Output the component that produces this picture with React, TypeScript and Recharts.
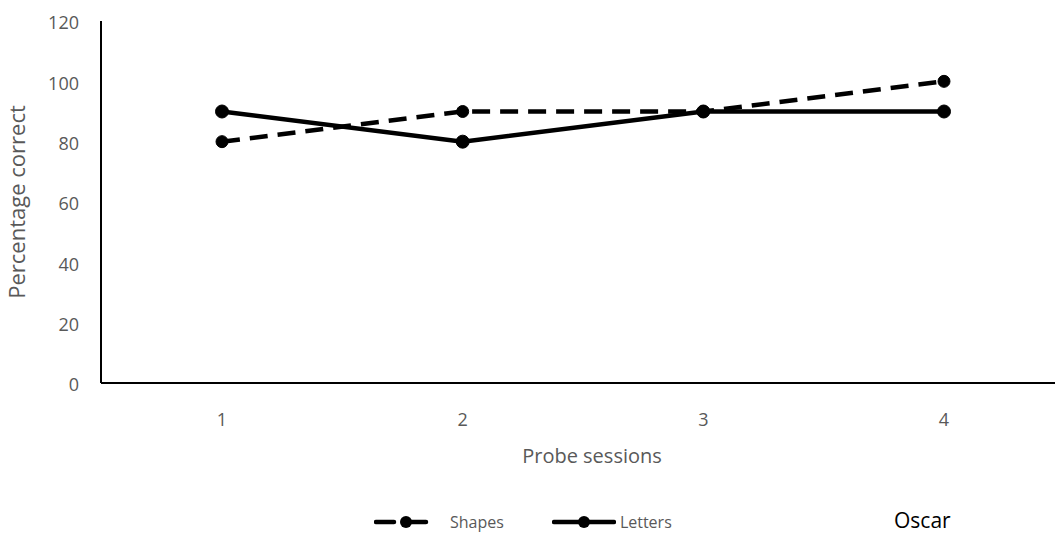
import { LineChart, Line, XAxis, YAxis } from "recharts";

const sessions = ["1", "2", "3", "4"];
const shapes = [80, 90, 90, 100];
const letters = [90, 80, 90, 90];
const yTicks = [0, 20, 40, 60, 80, 100, 120];

const data = sessions.map((s, i) => ({ session: s, Shapes: shapes[i], Letters: letters[i] }));

const FONT = "'Open Sans', sans-serif";
const GREY = "#595959";

const YLabel = ({ viewBox }: any) => {
  const cy = viewBox.y + viewBox.height / 2;
  return (
    <text
      x={0}
      y={0}
      transform={`translate(25, ${cy}) rotate(-90)`}
      textAnchor="middle"
      fill={GREY}
      fontSize={22}
      fontFamily={FONT}
    >
      Percentage correct
    </text>
  );
};

const LegendIcon = ({ dashed }: { dashed: boolean }) => (
  <svg width={64} height={14} style={{ verticalAlign: "middle" }}>
    <line
      x1={2}
      y1={7}
      x2={62}
      y2={7}
      stroke="#000"
      strokeWidth={4.5}
      strokeLinecap="round"
      strokeDasharray={dashed ? "18 14" : undefined}
    />
    <circle cx={32} cy={7} r={6} fill="#000" />
  </svg>
);

export default function App() {
  return (
    <div style={{ position: "absolute", left: 0, top: 0, width: 1055, height: 540, overflow: "hidden", background: "#fff" }}>
      <LineChart width={1055} height={540} data={data} margin={{ top: 21, right: 0, left: 0, bottom: 77 }}>
        <XAxis
          dataKey="session"
          height={80}
          padding={{ left: 121, right: 111 }}
          axisLine={{ stroke: "#000", strokeWidth: 2 }}
          tickLine={false}
          tickSize={0}
          tickMargin={30}
          tick={{ fill: GREY, fontSize: 18, fontFamily: FONT }}
          label={{ value: "Probe sessions", position: "insideTop", offset: 66, dx: 14, fill: GREY, fontSize: 20, fontFamily: FONT }}
        />
        <YAxis
          width={101}
          domain={[0, 120]}
          ticks={yTicks}
          interval={0}
          axisLine={{ stroke: "#000", strokeWidth: 2 }}
          tickLine={false}
          tickSize={0}
          tickMargin={22}
          dy={2}
          tick={{ fill: GREY, fontSize: 18, fontFamily: FONT }}
          label={<YLabel />}
        />
        <Line
          dataKey="Shapes"
          stroke="#000"
          strokeWidth={4.5}
          strokeDasharray="18 10"
          dot={{ r: 6, fill: "#000", stroke: "#000", strokeWidth: 1, strokeDasharray: "" }}
          isAnimationActive={false}
        />
        <Line
          dataKey="Letters"
          stroke="#000"
          strokeWidth={4.5}
          dot={{ r: 6.5, fill: "#000", stroke: "#000", strokeWidth: 1 }}
          isAnimationActive={false}
        />
      </LineChart>
      <div
        style={{
          position: "absolute",
          left: 374,
          top: 511,
          display: "flex",
          alignItems: "center",
          fontFamily: FONT,
          fontSize: 16,
          color: GREY,
        }}
      >
        <LegendIcon dashed />
        <span style={{ marginLeft: 12, marginRight: 48 }}>Shapes</span>
        <LegendIcon dashed={false} />
        <span style={{ marginLeft: 4 }}>Letters</span>
      </div>
      <div style={{ position: "absolute", left: 894, top: 506, fontFamily: FONT, fontSize: 21, color: "#000" }}>Oscar</div>
    </div>
  );
}
